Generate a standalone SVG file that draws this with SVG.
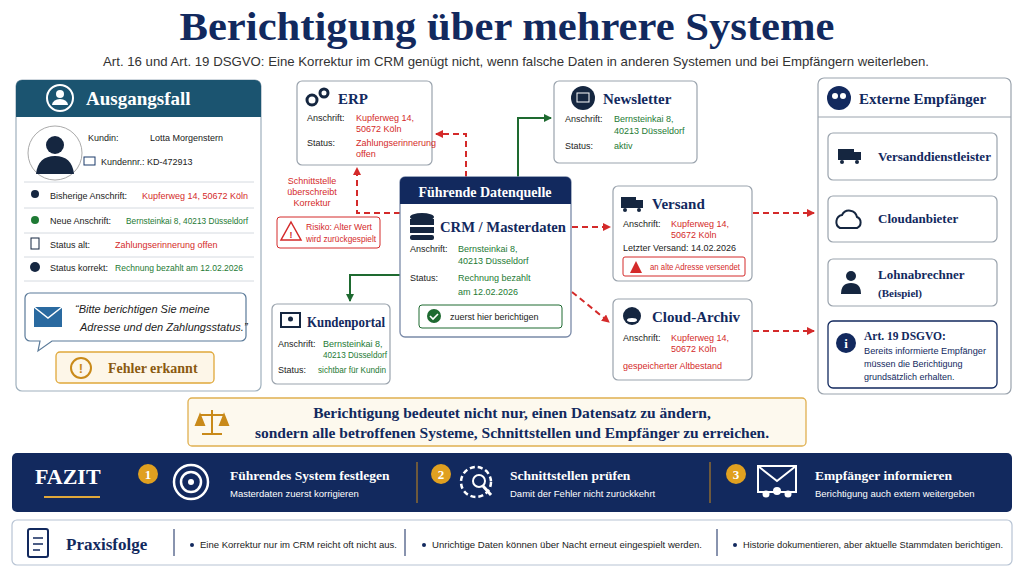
<svg xmlns="http://www.w3.org/2000/svg" width="1024" height="576" viewBox="0 0 1024 576">
<defs>
<style>
.t{font-family:"Liberation Sans",Arial,sans-serif}
.s{font-family:"Liberation Serif","DejaVu Serif",serif;font-weight:bold}
.box{fill:#fff;stroke:#9aa3ad;stroke-width:1.2}
.lb{font-family:"Liberation Sans",Arial,sans-serif;font-size:9px;fill:#222}
.red{fill:#d42a2a}.grn{fill:#1e7a34}.nv{fill:#12295e}
.rd{stroke:#d42a2a;stroke-width:2;fill:none;stroke-dasharray:6 4}
.gd{stroke:#1e6a30;stroke-width:2;fill:none}
.sep{stroke:#d5dae0;stroke-width:1}
</style>
<marker id="ar" markerWidth="8" markerHeight="8" refX="7" refY="4" orient="auto" markerUnits="userSpaceOnUse"><path d="M0,0L8,4L0,8z" fill="#d42a2a"/></marker>
<marker id="ag" markerWidth="8" markerHeight="8" refX="7" refY="4" orient="auto" markerUnits="userSpaceOnUse"><path d="M0,0L8,4L0,8z" fill="#1e6a30"/></marker>
</defs>
<rect width="1024" height="576" fill="#fff"/>
<text x="507" y="40" text-anchor="middle" class="s nv" font-size="40" textLength="655" lengthAdjust="spacingAndGlyphs">Berichtigung über mehrere Systeme</text>
<text x="516" y="66" text-anchor="middle" class="t" font-size="13.5" fill="#333" textLength="826" lengthAdjust="spacingAndGlyphs">Art. 16 und Art. 19 DSGVO: Eine Korrektur im CRM genügt nicht, wenn falsche Daten in anderen Systemen und bei Empfängern weiterleben.</text>

<g id="ausgangsfall">
<rect x="16" y="80" width="245" height="311" rx="6" fill="#fff" stroke="#9fb0bd" stroke-width="1.2"/>
<path d="M16,117V86a6,6 0 0 1 6,-6H255a6,6 0 0 1 6,6V117z" fill="#1b5470"/>
<circle cx="60" cy="98" r="13" fill="none" stroke="#fff" stroke-width="2"/>
<circle cx="60" cy="94" r="4" fill="#fff"/><path d="M52,105a8,6 0 0 1 16,0z" fill="#fff"/>
<text x="86" y="105" class="s" font-size="19" fill="#fff">Ausgangsfall</text>
<circle cx="55" cy="153" r="27" fill="#fff" stroke="#aaa"/>
<circle cx="55" cy="145" r="9" fill="#152640"/><path d="M36,174q2,-18 19,-18q17,0 19,18z" fill="#152640"/>
<text x="88" y="141" class="lb" font-size="10">Kundin:</text><text x="150" y="141" class="lb" font-size="10">Lotta Morgenstern</text>
<rect x="84" y="157" width="11" height="8" fill="none" stroke="#1b3a6a"/>
<text x="101" y="165" class="lb" font-size="10">Kundennr.:  KD-472913</text>
<line x1="24" y1="182" x2="254" y2="182" class="sep"/>
<line x1="24" y1="208" x2="254" y2="208" class="sep"/>
<line x1="24" y1="233" x2="254" y2="233" class="sep"/>
<line x1="24" y1="257" x2="254" y2="257" class="sep"/>
<line x1="24" y1="281" x2="254" y2="281" class="sep"/>
<circle cx="35" cy="194" r="4" fill="#152640"/><circle cx="35" cy="220" r="4" fill="#1e7a34"/>
<rect x="31" y="238" width="8" height="11" fill="none" stroke="#152640"/><circle cx="35" cy="267" r="5" fill="#152640"/>
<text x="50" y="199" class="lb">Bisherige Anschrift:</text><text x="142" y="199" class="lb red">Kupferweg 14, 50672 Köln</text>
<text x="50" y="224" class="lb">Neue Anschrift:</text><text x="126" y="224" class="lb grn" textLength="122" lengthAdjust="spacingAndGlyphs">Bernsteinkai 8, 40213 Düsseldorf</text>
<text x="50" y="248" class="lb">Status alt:</text><text x="115" y="248" class="lb red">Zahlungserinnerung offen</text>
<text x="50" y="271" class="lb">Status korrekt:</text><text x="115" y="271" class="lb grn" textLength="128" lengthAdjust="spacingAndGlyphs">Rechnung bezahlt am 12.02.2026</text>
<path d="M30,293H241a5,5 0 0 1 5,5V336a5,5 0 0 1 -5,5H52L38,351L40,341H30a5,5 0 0 1 -5,-5V298a5,5 0 0 1 5,-5z" fill="#fff" stroke="#5a7a99" stroke-width="1.2"/>
<rect x="34" y="307" width="28" height="20" fill="#2a6aa0"/><path d="M34,307L48,318L62,307" stroke="#fff" fill="none" stroke-width="1.5"/>
<text x="75" y="313" class="t" font-size="11" font-style="italic" fill="#222">“Bitte berichtigen Sie meine</text>
<text x="80" y="331" class="t" font-size="11" font-style="italic" fill="#222">Adresse und den Zahlungsstatus.”</text>
<rect x="56" y="352" width="158" height="31" rx="4" fill="#fdf6e8" stroke="#e0a83a" stroke-width="1.3"/>
<circle cx="81" cy="368" r="10" fill="none" stroke="#c98a1a" stroke-width="2"/><text x="81" y="373" text-anchor="middle" class="t" font-weight="bold" font-size="13" fill="#c98a1a">!</text>
<text x="108" y="373" class="s" font-size="14" fill="#8a5a10">Fehler erkannt</text>
</g>

<g id="connectors">
<path d="M466,177V134H436" class="rd" marker-end="url(#ar)"/>
<path d="M518,177V118H551" class="gd" marker-end="url(#ag)"/>
<path d="M400,213H357V168" class="rd" marker-end="url(#ar)"/>
<path d="M400,275H350V301" class="gd" marker-end="url(#ag)"/>
<path d="M572,227H610" class="rd" marker-end="url(#ar)"/>
<path d="M572,292L609,322" class="rd" marker-end="url(#ar)"/>
<path d="M753,213H814" class="rd" marker-end="url(#ar)"/>
<path d="M753,331H814" class="rd" marker-end="url(#ar)"/>
</g>

<g id="erp">
<rect x="297" y="81" width="135" height="84" rx="5" class="box"/>
<circle cx="312" cy="100" r="5" fill="none" stroke="#152640" stroke-width="3"/><circle cx="324" cy="93" r="4" fill="none" stroke="#152640" stroke-width="3"/>
<text x="338" y="104" class="s nv" font-size="15">ERP</text>
<text x="307" y="121" class="lb">Anschrift:</text><text x="356" y="121" class="lb red">Kupferweg 14,</text><text x="356" y="132" class="lb red">50672 Köln</text>
<text x="307" y="146" class="lb">Status:</text><text x="356" y="146" class="lb red">Zahlungserinnerung</text><text x="356" y="157" class="lb red">offen</text>
</g>
<g id="schnittstelle-label">
<text x="312" y="184" text-anchor="middle" class="lb red" font-size="8.5">Schnittstelle</text>
<text x="312" y="195" text-anchor="middle" class="lb red" font-size="8.5">überschreibt</text>
<text x="312" y="206" text-anchor="middle" class="lb red" font-size="8.5">Korrektur</text>
</g>
<g id="risiko">
<rect x="277" y="217" width="103" height="31" rx="3" fill="#fff" stroke="#d42a2a"/>
<path d="M291,222L301,240H281z" fill="none" stroke="#d42a2a" stroke-width="1.5"/><text x="291" y="238" text-anchor="middle" class="lb red" font-size="9" font-weight="bold">!</text>
<text x="306" y="230" class="lb red" font-size="8.5" textLength="66" lengthAdjust="spacingAndGlyphs">Risiko: Alter Wert</text><text x="306" y="242" class="lb red" font-size="8.5" textLength="70" lengthAdjust="spacingAndGlyphs">wird zurückgespielt</text>
</g>
<g id="newsletter">
<rect x="554" y="81" width="143" height="82" rx="5" class="box"/>
<circle cx="583" cy="98" r="12" fill="#152640"/><rect x="577" y="93" width="12" height="9" fill="none" stroke="#fff"/>
<text x="603" y="104" class="s nv" font-size="15">Newsletter</text>
<text x="565" y="122" class="lb">Anschrift:</text><text x="614" y="122" class="lb grn">Bernsteinkai 8,</text><text x="614" y="134" class="lb grn">40213 Düsseldorf</text>
<text x="565" y="149" class="lb">Status:</text><text x="614" y="149" class="lb grn">aktiv</text>
</g>
<g id="crm">
<rect x="400" y="177" width="171" height="160" rx="5" fill="#fff" stroke="#7a8aa8" stroke-width="1.3"/>
<path d="M400,204V182a5,5 0 0 1 5,-5H566a5,5 0 0 1 5,5V204z" fill="#12295e"/>
<text x="485" y="197" text-anchor="middle" class="s" font-size="14" fill="#fff">Führende Datenquelle</text>
<ellipse cx="422" cy="217" rx="12" ry="4" fill="#152640"/><rect x="410" y="219" width="24" height="6" fill="#152640"/><rect x="410" y="227" width="24" height="6" fill="#152640"/><rect x="410" y="235" width="24" height="5" rx="2" fill="#152640"/>
<text x="440" y="232" class="s nv" font-size="15" textLength="126" lengthAdjust="spacingAndGlyphs">CRM / Masterdaten</text>
<text x="410" y="252" class="lb" font-size="10">Anschrift:</text><text x="458" y="252" class="lb grn" font-size="10">Bernsteinkai 8,</text><text x="458" y="264" class="lb grn" font-size="10">40213 Düsseldorf</text>
<text x="410" y="281" class="lb" font-size="10">Status:</text><text x="458" y="281" class="lb grn" font-size="10">Rechnung bezahlt</text><text x="458" y="295" class="lb grn" font-size="10">am 12.02.2026</text>
<rect x="419" y="305" width="143" height="23" rx="3" fill="#fff" stroke="#1e6a30"/>
<circle cx="434" cy="316" r="7" fill="#1e6a30"/><path d="M430,316l3,3l5,-5" stroke="#fff" stroke-width="1.6" fill="none"/>
<text x="450" y="320" class="lb" font-size="10">zuerst hier berichtigen</text>
</g>
<g id="kundenportal">
<rect x="272" y="304" width="118" height="80" rx="5" class="box"/>
<rect x="281" y="313" width="19" height="14" fill="none" stroke="#152640" stroke-width="2"/><circle cx="290.5" cy="319" r="2.5" fill="#152640"/>
<text x="307" y="327" class="s nv" font-size="14" textLength="78" lengthAdjust="spacingAndGlyphs">Kundenportal</text>
<text x="278" y="347" class="lb" font-size="8.5">Anschrift:</text><text x="323" y="347" class="lb grn" font-size="8.5">Bernsteinkai 8,</text><text x="323" y="358" class="lb grn" font-size="8.5" textLength="64" lengthAdjust="spacingAndGlyphs">40213 Düsseldorf</text>
<text x="278" y="373" class="lb" font-size="8.5">Status:</text><text x="318" y="373" class="lb grn" font-size="8.5" textLength="68" lengthAdjust="spacingAndGlyphs">sichtbar für Kundin</text>
</g>
<g id="versand">
<rect x="613" y="186" width="139" height="95" rx="5" class="box"/>
<rect x="621" y="197" width="15" height="11" fill="#152640"/><rect x="636" y="200" width="7" height="8" fill="#152640"/><circle cx="625" cy="210" r="2" fill="#152640"/><circle cx="639" cy="210" r="2" fill="#152640"/>
<text x="652" y="209" class="s nv" font-size="15">Versand</text>
<text x="623" y="227" class="lb">Anschrift:</text><text x="671" y="227" class="lb red">Kupferweg 14,</text><text x="671" y="238" class="lb red">50672 Köln</text>
<text x="623" y="251" class="lb">Letzter Versand: 14.02.2026</text>
<rect x="623" y="257" width="122" height="19" rx="2" fill="#fff" stroke="#d42a2a"/>
<path d="M630,273L636,261L642,273z" fill="#d42a2a"/>
<text x="650" y="270" class="lb red" font-size="9" textLength="90" lengthAdjust="spacingAndGlyphs">an alte Adresse versendet</text>
</g>
<g id="cloud-archiv">
<rect x="613" y="299" width="139" height="81" rx="5" class="box"/>
<circle cx="632" cy="316" r="9" fill="#152640"/><ellipse cx="632" cy="320" rx="5" ry="2" fill="#fff"/>
<text x="652" y="322" class="s nv" font-size="15">Cloud-Archiv</text>
<text x="623" y="341" class="lb">Anschrift:</text><text x="671" y="341" class="lb red">Kupferweg 14,</text><text x="671" y="352" class="lb red">50672 Köln</text>
<text x="623" y="369" class="lb red">gespeicherter Altbestand</text>
</g>
<g id="externe-empfaenger">
<rect x="818" y="78" width="193" height="316" rx="6" fill="#fff" stroke="#9aa3ad" stroke-width="1.2"/>
<line x1="818" y1="117" x2="1011" y2="117" stroke="#9aa3ad"/>
<circle cx="839" cy="98" r="12" fill="#12295e"/><circle cx="835" cy="96" r="3" fill="#fff"/><circle cx="843" cy="96" r="3" fill="#fff"/>
<text x="859" y="104" class="s nv" font-size="15">Externe Empfänger</text>
<rect x="828" y="133" width="169" height="47" rx="5" class="box"/>
<rect x="838" y="149" width="16" height="11" fill="#152640"/><rect x="854" y="152" width="7" height="8" fill="#152640"/><circle cx="842" cy="162" r="2" fill="#152640"/><circle cx="857" cy="162" r="2" fill="#152640"/>
<text x="878" y="161" class="s nv" font-size="13">Versanddienstleister</text>
<rect x="828" y="196" width="169" height="46" rx="5" class="box"/>
<path d="M840,228a7,7 0 0 1 2,-13a8,8 0 0 1 15,2a6,6 0 0 1 0,11z" fill="none" stroke="#152640" stroke-width="2"/>
<text x="878" y="223" class="s nv" font-size="13">Cloudanbieter</text>
<rect x="828" y="259" width="169" height="47" rx="5" class="box"/>
<circle cx="851" cy="276" r="5" fill="#152640"/><path d="M841,294q0,-11 10,-11q10,0 10,11z" fill="#152640"/>
<text x="878" y="279" class="s nv" font-size="13">Lohnabrechner</text><text x="878" y="297" class="s nv" font-size="11">(Beispiel)</text>
<rect x="828" y="321" width="169" height="67" rx="5" fill="#fff" stroke="#12295e" stroke-width="1.3"/>
<circle cx="846" cy="343" r="10" fill="#12295e"/><text x="846" y="348" text-anchor="middle" class="s" font-size="13" fill="#fff">i</text>
<text x="864" y="340" class="s nv" font-size="11.5">Art. 19 DSGVO:</text>
<text x="864" y="354" class="lb nv" textLength="122" lengthAdjust="spacingAndGlyphs">Bereits informierte Empfänger</text>
<text x="864" y="367" class="lb nv">müssen die Berichtigung</text>
<text x="864" y="380" class="lb nv">grundsätzlich erhalten.</text>
</g>
<g id="banner">
<rect x="188" y="398" width="618" height="48" rx="4" fill="#fdf9ee" stroke="#e0b050" stroke-width="1.3"/>
<path d="M212,410V434M202,434H222M200,415H224M200,415L196,425H204zM224,415L220,425H228z" stroke="#c98a1a" stroke-width="2" fill="#c98a1a"/>
<text x="512" y="418" text-anchor="middle" class="s nv" font-size="15.5">Berichtigung bedeutet nicht nur, einen Datensatz zu ändern,</text>
<text x="512" y="438" text-anchor="middle" class="s nv" font-size="15.5">sondern alle betroffenen Systeme, Schnittstellen und Empfänger zu erreichen.</text>
</g>
<g id="fazit">
<rect x="12" y="453" width="1000" height="59" rx="5" fill="#12295e"/>
<text x="35" y="484" class="s" font-size="22" fill="#fff">FAZIT</text>
<line x1="44" y1="497" x2="100" y2="497" stroke="#e0a83a" stroke-width="2"/>
<line x1="417" y1="462" x2="417" y2="503" stroke="#c98a1a"/><line x1="710" y1="462" x2="710" y2="503" stroke="#c98a1a"/>
<circle cx="148" cy="474" r="10" fill="#e0a020"/><text x="148" y="479" text-anchor="middle" class="s" font-size="13" fill="#fff">1</text>
<circle cx="191" cy="482" r="17" fill="none" stroke="#fff" stroke-width="2.5"/><circle cx="191" cy="482" r="10" fill="none" stroke="#fff" stroke-width="2.5"/><circle cx="191" cy="482" r="3" fill="#fff"/>
<text x="230" y="480" class="s" font-size="13.5" fill="#fff">Führendes System festlegen</text>
<text x="230" y="497" class="t" font-size="9.5" fill="#fff">Masterdaten zuerst korrigieren</text>
<circle cx="441" cy="474" r="10" fill="#e0a020"/><text x="441" y="479" text-anchor="middle" class="s" font-size="13" fill="#fff">2</text>
<circle cx="476" cy="482" r="15" fill="none" stroke="#fff" stroke-width="2.5" stroke-dasharray="5 3"/><circle cx="479" cy="481" r="6" fill="none" stroke="#fff" stroke-width="2"/><path d="M483,486L491,495" stroke="#fff" stroke-width="3"/>
<text x="510" y="480" class="s" font-size="13.5" fill="#fff">Schnittstellen prüfen</text>
<text x="510" y="497" class="t" font-size="9.5" fill="#fff">Damit der Fehler nicht zurückkehrt</text>
<circle cx="736" cy="474" r="10" fill="#e0a020"/><text x="736" y="479" text-anchor="middle" class="s" font-size="13" fill="#fff">3</text>
<rect x="758" y="466" width="38" height="26" fill="none" stroke="#fff" stroke-width="2"/><path d="M758,466L777,481L796,466" stroke="#fff" stroke-width="2" fill="none"/>
<circle cx="777" cy="491" r="4" fill="#fff"/><circle cx="766" cy="494" r="3.5" fill="#fff"/><circle cx="788" cy="494" r="3.5" fill="#fff"/>
<text x="815" y="480" class="s" font-size="13.5" fill="#fff">Empfänger informieren</text>
<text x="815" y="497" class="t" font-size="9.5" fill="#fff">Berichtigung auch extern weitergeben</text>
</g>
<g id="praxisfolge">
<rect x="12" y="520" width="1000" height="45" rx="5" fill="#fff" stroke="#b8c4d4" stroke-width="1.2"/>
<rect x="28" y="529" width="20" height="28" rx="2" fill="none" stroke="#12295e" stroke-width="2"/>
<path d="M33,538H43M33,544H43M33,550H40" stroke="#12295e" stroke-width="1.5"/>
<text x="66" y="550" class="s nv" font-size="17">Praxisfolge</text>
<line x1="174" y1="529" x2="174" y2="556" stroke="#12295e"/><line x1="405" y1="529" x2="405" y2="556" stroke="#12295e"/><line x1="717" y1="529" x2="717" y2="556" stroke="#12295e"/>
<circle cx="192" cy="545" r="2" fill="#12295e"/><text x="200" y="548" class="lb" textLength="197" lengthAdjust="spacingAndGlyphs">Eine Korrektur nur im CRM reicht oft nicht aus.</text>
<circle cx="424" cy="545" r="2" fill="#12295e"/><text x="432" y="548" class="lb" textLength="270" lengthAdjust="spacingAndGlyphs">Unrichtige Daten können über Nacht erneut eingespielt werden.</text>
<circle cx="735" cy="545" r="2" fill="#12295e"/><text x="743" y="548" class="lb" textLength="260" lengthAdjust="spacingAndGlyphs">Historie dokumentieren, aber aktuelle Stammdaten berichtigen.</text>
</g>
</svg>
